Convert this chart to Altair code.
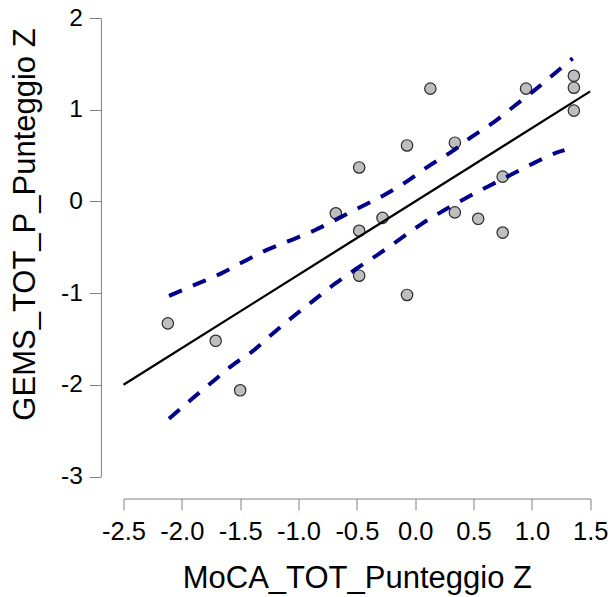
import altair as alt
import pandas as pd

# Scatter points
pts_x = [-2.12, -1.71, -1.50, -0.68, -0.48, -0.48, -0.48, -0.28, -0.07, -0.07,
         0.13, 0.34, 0.34, 0.54, 0.75, 0.75, 0.95, 1.36, 1.36, 1.36]
pts_y = [-1.33, -1.52, -2.06, -0.13, 0.37, -0.32, -0.81, -0.18, 0.61, -1.02,
         1.23, 0.64, -0.12, -0.19, 0.27, -0.34, 1.23, 1.37, 1.24, 0.99]

# Regression line
line_x = [-2.5, 1.5]
line_y = [-2.0, 1.2]

# Upper confidence band
up_x = [-2.11, -1.87, -1.67, -1.49, -1.29, -1.08, -0.87, -0.65, -0.45, -0.25,
        -0.08, 0.11, 0.31, 0.48, 0.68, 0.85, 1.04, 1.19, 1.35]
up_y = [-1.03, -0.90, -0.79, -0.67, -0.54, -0.43, -0.32, -0.18, -0.05, 0.08,
        0.21, 0.38, 0.54, 0.70, 0.87, 1.04, 1.23, 1.39, 1.56]

# Lower confidence band
lo_x = [-2.11, -1.91, -1.74, -1.57, -1.39, -1.22, -1.04, -0.87, -0.69, -0.51,
        -0.32, -0.14, 0.05, 0.23, 0.44, 0.62, 0.82, 1.02, 1.23, 1.28]
lo_y = [-2.37, -2.15, -1.97, -1.79, -1.63, -1.44, -1.25, -1.08, -0.90, -0.74,
        -0.58, -0.42, -0.25, -0.11, 0.04, 0.16, 0.29, 0.42, 0.54, 0.56]

x_ticks = [-2.5, -2.0, -1.5, -1.0, -0.5, 0.0, 0.5, 1.0, 1.5]
y_ticks = [-3, -2, -1, 0, 1, 2]

FONT = "Liberation Sans"
AXC = "#808080"

df_pts = pd.DataFrame({"x": pts_x, "y": pts_y})
df_line = pd.DataFrame({"x": line_x, "y": line_y})
df_up = pd.DataFrame({"x": up_x, "y": up_y})
df_lo = pd.DataFrame({"x": lo_x, "y": lo_y})

x_scale = alt.Scale(domain=[-2.5, 1.5], nice=False, zero=False)
y_scale = alt.Scale(domain=[-3, 2], nice=False, zero=False)

x_axis = alt.Axis(
    title="MoCA_TOT_Punteggio Z", values=x_ticks,
    labelExpr="(datum.value < 0 ? '-' : '') + format(abs(datum.value), '.1f')",
    offset=22, tickSize=11.5, labelPadding=9, titlePadding=19, grid=False,
    domainColor=AXC, tickColor=AXC, domainWidth=1, tickWidth=1,
    labelFontSize=25.5, titleFontSize=31, titleFontWeight="normal",
    labelColor="black", titleColor="black", labelFont=FONT, titleFont=FONT,
    labelFlush=False, labelOverlap=False,
)
y_axis = alt.Axis(
    title="GEMS_TOT_P_Punteggio Z", values=y_ticks,
    labelExpr="(datum.value < 0 ? '-' : '') + format(abs(datum.value), 'd')",
    offset=22.6, tickSize=11.5, labelPadding=7, titlePadding=19, titleY=206,
    grid=False, domainColor=AXC, tickColor=AXC, domainWidth=1, tickWidth=1,
    labelFontSize=24.5, titleFontSize=31, titleFontWeight="normal",
    labelColor="black", titleColor="black", labelFont=FONT, titleFont=FONT,
    labelFlush=False, labelOverlap=False,
)

points = alt.Chart(df_pts).mark_point(
    shape="circle", filled=True, fill="#BEBEBE", stroke="#2a2a2a",
    strokeWidth=1.2, size=130, opacity=1
).encode(
    x=alt.X("x:Q", scale=x_scale, axis=x_axis),
    y=alt.Y("y:Q", scale=y_scale, axis=y_axis),
)

reg = alt.Chart(df_line).mark_line(color="black", strokeWidth=2.3).encode(
    x=alt.X("x:Q", scale=x_scale), y=alt.Y("y:Q", scale=y_scale), order="x:Q"
)

band_style = dict(color="#00008B", strokeWidth=4, strokeDash=[14, 12],
                  strokeCap="butt", interpolate="monotone")

up = alt.Chart(df_up).mark_line(**band_style).encode(
    x=alt.X("x:Q", scale=x_scale), y=alt.Y("y:Q", scale=y_scale), order="x:Q")

lo = alt.Chart(df_lo).mark_line(**band_style).encode(
    x=alt.X("x:Q", scale=x_scale), y=alt.Y("y:Q", scale=y_scale), order="x:Q")

chart = alt.layer(points, reg, up, lo).properties(
    width=466.7, height=458.5,
    autosize=alt.AutoSizeParams(type="none"),
    padding={"left": 115.5, "top": 10, "right": 17.8, "bottom": 120.5},
    background="white",
).configure_view(stroke=None)

chart.save("out.html", embed_options={"renderer": "svg", "actions": False})
